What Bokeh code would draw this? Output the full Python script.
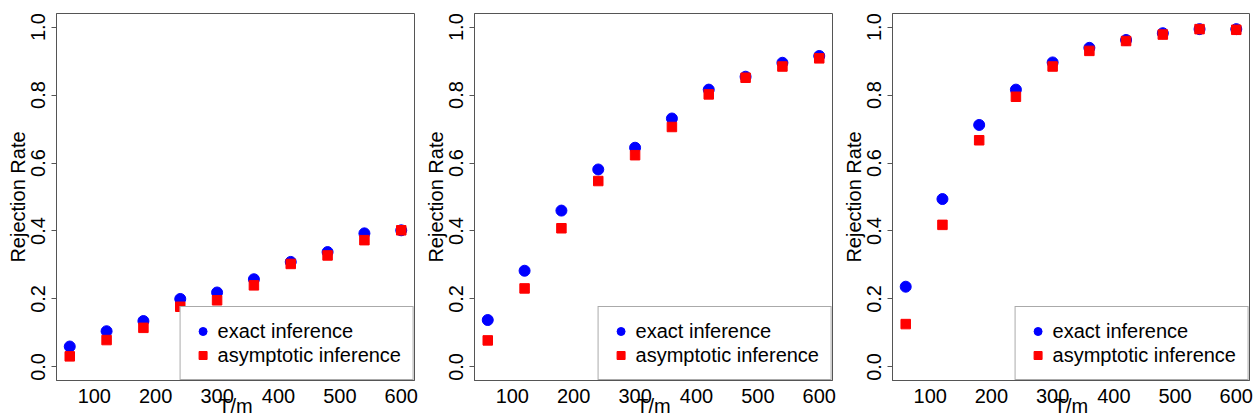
import math
from bokeh.plotting import figure
from bokeh.layouts import row
from bokeh.models import Range1d, FixedTicker, PrintfTickFormatter, Legend, LegendItem
from bokeh.embed import file_html
from bokeh.resources import INLINE

T_m = [60, 120, 180, 240, 300, 360, 420, 480, 540, 600]

exact_1 = [0.060, 0.105, 0.135, 0.200, 0.219, 0.258, 0.309, 0.338, 0.393, 0.402]
asym_1 = [0.031, 0.079, 0.115, 0.177, 0.196, 0.240, 0.303, 0.328, 0.373, 0.402]

exact_2 = [0.138, 0.283, 0.460, 0.581, 0.645, 0.731, 0.816, 0.854, 0.895, 0.915]
asym_2 = [0.078, 0.231, 0.408, 0.547, 0.623, 0.706, 0.802, 0.851, 0.884, 0.908]

exact_3 = [0.236, 0.494, 0.712, 0.816, 0.896, 0.939, 0.962, 0.982, 0.994, 0.994]
asym_3 = [0.126, 0.418, 0.667, 0.795, 0.884, 0.930, 0.959, 0.978, 0.994, 0.992]

x_ticks = [100, 200, 300, 400, 500, 600]
y_ticks = [0.0, 0.2, 0.4, 0.6, 0.8, 1.0]
labels = ["exact inference", "asymptotic inference"]
x_title = "T/m"
y_title = "Rejection Rate"

FONT = "Liberation Sans"
FS = "20px"
BOX = "#555555"


def panel(exact, asym, width, border_right):
    p = figure(width=width, height=419, output_backend="svg", toolbar_location=None,
               x_range=Range1d(38.4, 621.6), y_range=Range1d(-0.04, 1.04),
               min_border_left=56, min_border_right=border_right,
               min_border_top=13, min_border_bottom=38)
    p.xgrid.visible = False
    p.ygrid.visible = False
    p.outline_line_color = BOX
    p.outline_line_width = 1
    p.background_fill_color = "white"
    p.border_fill_color = "white"

    r1 = p.scatter(T_m, exact, marker="circle", size=11, color="#0000FF")
    r2 = p.scatter(T_m, asym, marker="square", size=9.5, color="#FF0000")

    xa = p.xaxis[0]
    xa.ticker = FixedTicker(ticks=x_ticks)
    xa.axis_label = x_title
    xa.major_tick_out = 0
    xa.major_tick_in = 0
    xa.minor_tick_out = 0
    xa.minor_tick_in = 0
    xa.major_label_standoff = 8
    xa.axis_label_standoff = -11
    ya = p.yaxis[0]
    ya.ticker = FixedTicker(ticks=y_ticks)
    ya.formatter = PrintfTickFormatter(format="%.1f")
    ya.axis_label = y_title
    ya.major_label_orientation = "parallel"
    ya.major_tick_out = 5
    ya.major_tick_in = 0
    ya.minor_tick_out = 0
    ya.minor_tick_in = 0
    ya.major_label_standoff = 6
    ya.axis_label_standoff = 0
    for ax in (xa, ya):
        ax.axis_line_color = BOX
        ax.major_tick_line_color = BOX
        ax.major_label_text_font = FONT
        ax.major_label_text_font_size = FS
        ax.major_label_text_color = "black"
        ax.axis_label_text_font = FONT
        ax.axis_label_text_font_size = FS
        ax.axis_label_text_font_style = "normal"
        ax.axis_label_text_color = "black"

    leg = Legend(items=[LegendItem(label=labels[0], renderers=[r1]),
                        LegendItem(label=labels[1], renderers=[r2])],
                 location="bottom_right")
    leg.margin = 0
    leg.padding = 12
    leg.spacing = 0
    leg.glyph_width = 20
    leg.glyph_height = 20
    leg.label_height = 24
    leg.label_standoff = 5
    leg.label_text_font = FONT
    leg.label_text_font_size = FS
    leg.label_text_color = "black"
    leg.border_line_color = BOX
    leg.border_line_width = 1
    leg.background_fill_color = "white"
    leg.background_fill_alpha = 1.0
    p.add_layout(leg, "center")
    return p


p1 = panel(exact_1, asym_1, 418, 4)
p2 = panel(exact_2, asym_2, 418, 4)
p3 = panel(exact_3, asym_3, 419, 6)

layout = row(p1, p2, p3)
open("out.html", "w").write(file_html(layout, INLINE))
